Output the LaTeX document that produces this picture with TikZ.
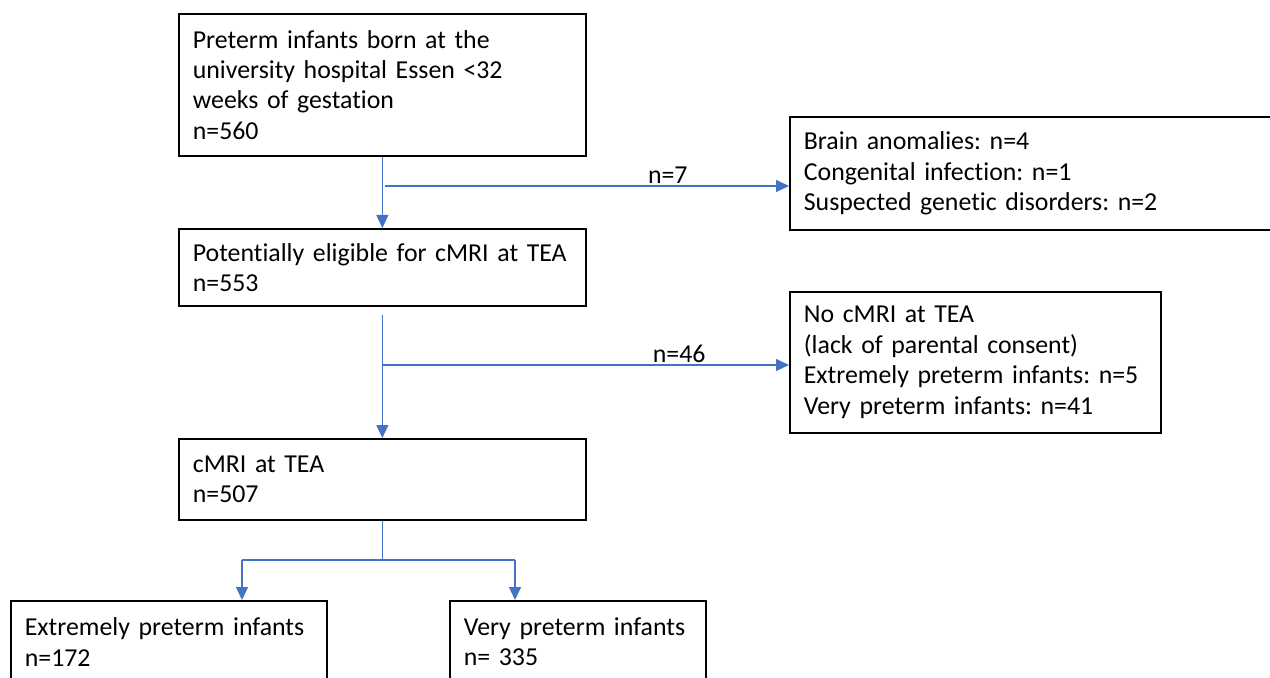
\documentclass[tikz,border=0pt]{standalone}
\usepackage{fontspec}
\setmainfont{Carlito}[Ligatures=NoCommon]
\usetikzlibrary{arrows.meta}
\definecolor{flowblue}{HTML}{4472C4}
\frenchspacing

\tikzset{
  box/.style={draw, line width=1pt, anchor=north west, align=left, inner xsep=0.28cm, inner ysep=0pt,
    font=\fontsize{14.7pt}{17.3pt}\selectfont},
  flow/.style={draw=flowblue, line width=0.7pt, -{Triangle[width=0.24cm,length=0.26cm]}},
  count/.style={font=\fontsize{14.7pt}{17.3pt}\selectfont, inner sep=1pt}
}

\begin{document}
\begin{tikzpicture}[x=0.02cm, y=-0.02cm]
  \useasboundingbox (0,0) rectangle (1270,678);
  \clip (0,0) rectangle (1270,678);
  % main column
  \node[box, text width=7.58cm, minimum height=2.84cm] (born) at (178,13)
    {Preterm infants born at the\\university hospital Essen <32\\weeks of gestation\\n=560};
  \node[box, text width=7.58cm, minimum height=1.54cm] (eligible) at (178,228)
    {Potentially eligible for cMRI at TEA\\n=553};
  \node[box, text width=7.58cm, minimum height=1.62cm] (cmri) at (178,438)
    {cMRI at TEA\\n=507};
  % exclusions
  \node[box, text width=9.64cm, minimum height=2.26cm] (excluded) at (789,116)
    {Brain anomalies: n=4\\Congenital infection: n=1\\Suspected genetic disorders: n=2};
  \node[box, text width=6.86cm, minimum height=2.82cm] (noscan) at (789,291)
    {No cMRI at TEA\\(lack of parental consent)\\Extremely preterm infants: n=5\\Very preterm infants: n=41};
  % groups
  \node[box, text width=5.76cm, minimum height=1.64cm] (extreme) at (10,600)
    {Extremely preterm infants\\n=172};
  \node[box, text width=4.56cm, minimum height=1.64cm] (very) at (449,600)
    {Very preterm infants\\n= 335};

  \draw[flow] (born.south) -- (eligible.north);
  \coordinate (split1) at (385,186);
  \draw[flow] (split1) -- (split1 -| excluded.west) node[count, pos=0.7, above] {n=7};

  \draw[flow, shorten <=0.16cm] (eligible.south) -- (cmri.north);
  \coordinate (split2) at (born.south |- 0,365);
  \draw[flow] (split2) -- (split2 -| noscan.west) node[count, pos=0.73, above] {n=46};

  \coordinate (forkl) at (242,560);
  \coordinate (forkr) at (515,560);
  \draw[draw=flowblue, line width=0.7pt] (cmri.south) -- (cmri.south |- forkl) (forkl) -- (forkr);
  \draw[flow] (forkl) -- (forkl |- extreme.north);
  \draw[flow] (forkr) -- (forkr |- very.north);
\end{tikzpicture}
\end{document}
